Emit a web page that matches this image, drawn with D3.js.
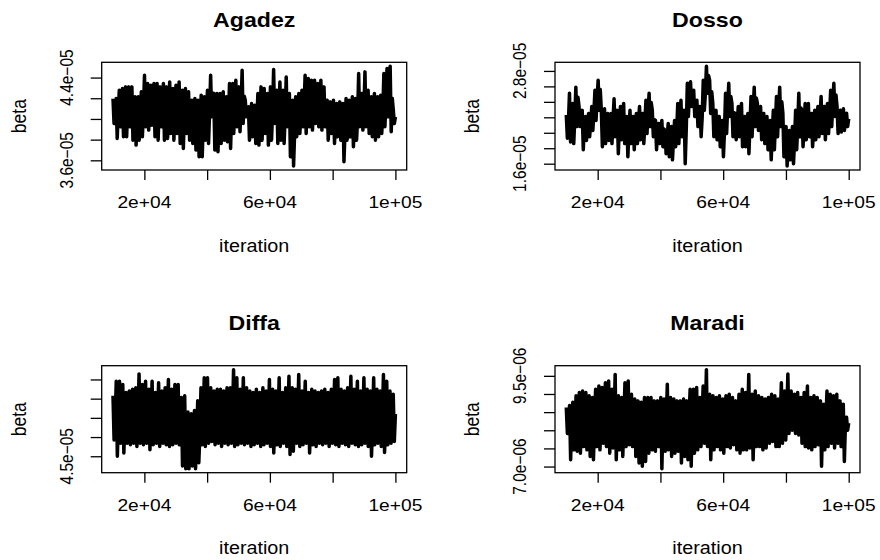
<!DOCTYPE html>
<meta charset="utf-8">
<style>
body { margin: 0; background: #fff; }
text { font-family: "Liberation Sans", Arial, Helvetica, sans-serif; fill: #000; }
.trace { fill: none; stroke: #000; stroke-width: 3.5px; stroke-linejoin: round; }
.box { fill: none; stroke: #000; stroke-width: 1.3px; }
.axis line { stroke: #000; stroke-width: 1.3px; }
</style>
<svg width="880" height="560"></svg>
<script src="https://cdn.jsdelivr.net/npm/d3@7"></script>
<script>

// iterations kept after burn-in
var iterStart = 10000, iterEnd = 100000;

// beta traces, in units of 1e-6
var agadez = [41.97,39.56,40.9, 41.97,38.12,40.6, 42.78,39.24,41.3, 42.94,38.28,41.0,
  43.10,38.28,41.2, 43.10,39.24,41.5, 43.10,37.95,41.0, 42.14,37.47,40.3,
  42.14,37.95,40.5, 42.62,38.28,40.8, 44.23,39.24,41.6, 43.42,38.92,41.5,
  43.26,39.40,41.8, 43.42,38.28,41.4, 43.42,37.95,41.2, 43.10,39.24,41.6,
  43.42,37.95,41.3, 43.10,38.12,41.1, 43.58,38.60,41.5, 42.94,37.95,41.0,
  43.26,38.60,41.3, 43.58,37.63,41.0, 42.78,37.15,40.6, 42.94,38.60,41.0,
  42.62,37.95,40.7, 41.81,37.63,40.1, 41.97,36.99,39.8, 41.81,36.35,39.5,
  42.30,36.35,39.8, 42.14,37.95,40.4, 42.78,37.63,40.6, 44.23,40.21,42.5,
  42.46,36.99,40.0, 42.46,36.83,40.2, 42.46,37.63,40.4, 42.62,37.95,40.6,
  42.14,37.79,40.3, 43.42,37.15,40.7, 43.42,38.60,41.3, 43.74,39.24,41.7,
  43.10,38.76,41.2, 44.71,39.56,42.2, 41.81,40.21,41.0, 41.17,37.95,39.8,
  41.49,38.28,40.1, 41.33,37.63,39.7, 42.46,37.47,40.3, 43.10,37.95,40.8,
  42.94,38.60,41.0, 42.46,37.47,40.2, 43.10,37.95,40.7, 44.77,39.56,42.0,
  42.78,37.63,40.5, 43.58,37.95,41.0, 42.78,37.63,40.4, 44.06,39.24,41.8,
  42.46,36.35,39.6, 41.81,35.45,38.6, 42.14,38.28,40.3, 42.46,38.60,40.7,
  42.78,39.24,41.2, 44.23,38.60,41.5, 43.90,39.24,41.6, 43.74,38.92,41.4,
  43.74,39.56,41.8, 43.42,39.24,41.5, 43.74,38.92,41.3, 43.10,39.24,41.2,
  41.81,37.95,40.1, 41.65,38.60,40.3, 41.81,37.63,39.9, 41.49,38.28,40.0,
  41.65,37.95,39.9, 41.49,35.86,38.7, 41.97,37.95,40.1, 41.81,38.28,40.2,
  42.14,37.31,40.0, 41.97,37.95,40.1, 44.39,39.24,41.9, 42.46,38.92,40.8,
  44.55,39.24,42.0, 42.78,38.60,40.9, 42.14,38.28,40.4, 42.46,37.95,40.3,
  42.14,38.28,40.4, 42.30,38.60,40.6, 44.39,39.24,41.8, 44.87,40.21,42.6,
  45.09,38.76,42.0, 40.85,39.56,40.2];

var dosso = [22.3,19.3,21.4, 25.1,18.8,22.6, 23.8,18.6,21.9, 25.9,20.8,24.6,
  23.4,20.8,22.5, 22.9,17.8,21.2, 22.1,19.0,21.0, 22.5,19.5,21.3,
  23.4,20.3,22.7, 25.5,21.6,24.4, 26.8,22.9,25.6, 22.9,18.2,21.6,
  23.1,18.6,21.4, 22.5,19.0,21.2, 22.5,18.6,21.7, 24.4,19.5,22.3,
  22.9,17.3,21.0, 23.4,19.1,22.1, 23.8,18.6,21.8, 22.1,16.9,20.4,
  22.9,18.6,21.3, 22.1,17.8,20.9, 22.5,18.6,21.6, 23.4,19.1,22.0,
  22.5,18.6,21.2, 24.2,19.9,22.8, 25.1,20.8,23.9, 22.9,19.5,21.7,
  21.6,17.8,20.6, 21.2,18.6,20.3, 21.6,18.2,20.5, 20.3,17.3,19.4,
  21.2,16.9,19.8, 20.8,16.5,19.3, 21.6,18.2,20.4, 23.8,18.6,21.9,
  24.2,19.5,22.6, 22.9,16.0,20.5, 26.4,22.1,25.3, 26.6,23.4,25.4,
  25.5,22.1,24.0, 24.2,20.8,23.1, 23.4,19.5,22.0, 26.8,22.9,25.1,
  28.6,25.1,27.4, 26.8,22.5,25.3, 23.8,19.5,22.4, 22.9,19.1,21.6,
  22.1,18.2,20.9, 21.6,16.9,20.2, 25.1,19.9,23.2, 26.4,22.1,24.7,
  23.8,19.5,22.6, 22.5,19.1,21.3, 23.4,19.5,22.2, 23.8,18.2,21.5,
  22.1,18.2,20.9, 22.5,17.3,21.0, 24.7,19.5,23.0, 25.9,20.8,24.5,
  23.8,20.3,22.4, 23.4,19.1,21.8, 22.5,18.6,21.2, 22.1,17.8,20.6,
  21.6,16.5,20.0, 22.9,17.8,21.4, 24.7,19.5,22.8, 25.9,20.8,24.0,
  22.5,16.9,20.2, 20.8,15.7,19.0, 20.3,16.5,18.7, 20.8,16.0,19.1,
  22.9,17.8,21.1, 25.1,19.5,23.2, 22.9,18.2,21.4, 23.8,19.1,22.2,
  23.8,19.5,22.0, 22.5,18.2,21.0, 22.9,19.1,21.6, 23.4,19.5,22.1,
  24.7,19.9,23.0, 23.4,19.1,21.8, 23.8,19.9,22.3, 25.5,20.8,23.9,
  26.4,22.1,24.9, 23.4,19.9,22.0, 22.9,20.1,21.6, 23.1,20.3,22.2,
  22.5,20.8,21.8];

var diffa = [48.15,45.85,46.9, 48.91,45.00,47.0, 48.91,45.68,46.8, 48.74,45.17,47.1,
  48.32,45.68,46.9, 48.40,45.60,47.0, 48.49,45.68,46.8, 48.57,45.51,47.1,
  49.29,45.68,46.9, 48.74,45.60,47.0, 48.91,45.68,46.8, 48.49,45.34,47.1,
  48.91,45.60,46.9, 48.32,45.68,47.0, 48.83,45.51,46.8, 48.40,45.68,47.1,
  48.57,45.60,46.9, 49.00,45.51,47.0, 48.49,45.60,46.8, 48.74,45.68,47.1,
  48.74,45.60,46.9, 48.06,44.49,46.3, 48.15,44.35,46.0, 47.30,44.35,45.8,
  47.21,44.49,45.9, 47.38,44.35,46.0, 47.89,44.66,46.2, 48.57,45.60,46.8,
  49.09,45.51,47.0, 49.09,45.68,46.9, 48.57,45.77,47.1, 48.40,45.60,46.8,
  48.49,45.68,47.0, 48.49,45.51,46.9, 48.40,45.68,47.1, 48.57,45.60,46.8,
  48.57,45.68,47.0, 49.51,45.51,46.9, 49.09,45.60,47.1, 48.49,45.68,46.8,
  49.09,45.60,47.0, 48.57,45.68,46.9, 48.40,45.51,47.1, 48.32,45.60,46.8,
  48.49,45.68,47.0, 48.32,45.51,46.9, 48.57,45.60,47.1, 48.40,45.68,46.8,
  49.00,45.51,47.0, 48.49,45.17,46.9, 48.40,45.60,47.1, 49.09,45.51,46.8,
  48.32,45.68,47.0, 48.57,45.51,46.9, 49.17,45.09,47.1, 48.57,45.26,46.8,
  48.49,45.68,47.0, 49.26,45.51,46.9, 48.40,45.60,47.1, 48.91,45.68,46.8,
  48.32,45.17,47.0, 48.49,45.60,46.9, 48.40,45.51,47.1, 48.32,45.68,46.8,
  48.40,45.60,47.0, 48.49,45.68,46.9, 48.32,45.51,47.1, 48.49,45.68,46.8,
  49.00,45.60,47.0, 49.09,45.51,46.9, 48.49,45.68,47.1, 48.40,45.60,46.8,
  48.57,45.51,47.0, 49.17,45.68,46.9, 48.49,45.60,47.1, 48.91,45.51,46.8,
  48.40,45.60,47.0, 49.09,45.68,46.9, 48.49,45.51,47.1, 48.40,45.00,46.8,
  49.09,45.60,47.0, 48.49,45.68,46.9, 48.40,45.51,47.1, 49.26,45.20,46.8,
  48.91,45.60,47.0, 48.40,45.68,46.9, 48.23,45.77,47.2];

var maradi = [8.63,7.91,8.30, 8.68,7.19,8.35, 8.77,7.46,8.20, 8.95,7.42,8.40,
  9.04,7.37,8.25, 9.08,7.55,8.45, 9.04,7.46,8.30, 8.95,7.28,8.40,
  8.90,7.19,8.25, 9.13,7.55,8.50, 9.22,7.46,8.35, 9.18,7.64,8.45,
  9.31,7.55,8.40, 9.36,7.37,8.50, 9.13,7.51,8.30, 9.54,7.19,8.45,
  8.95,7.46,8.35, 8.90,7.28,8.25, 9.31,7.55,8.50, 9.36,7.60,8.40,
  8.99,7.55,8.30, 8.86,7.28,8.20, 8.81,7.10,8.15, 8.77,7.01,8.25,
  8.90,7.14,8.30, 8.90,7.37,8.35, 8.90,7.46,8.20, 8.81,7.42,8.30,
  8.81,7.55,8.25, 8.90,6.94,8.35, 8.86,7.42,8.20, 9.27,7.46,8.40,
  8.90,7.28,8.25, 8.86,7.37,8.30, 8.81,7.42,8.20, 8.81,7.10,8.30,
  8.86,7.28,8.25, 8.81,7.19,8.35, 9.13,7.01,8.40, 9.13,7.37,8.30,
  9.18,7.46,8.45, 8.90,7.55,8.35, 9.22,7.64,8.40, 9.67,7.55,8.50,
  8.99,7.19,8.30, 8.95,7.46,8.35, 8.90,7.55,8.25, 8.95,7.46,8.40,
  8.86,7.37,8.30, 8.95,7.55,8.35, 8.99,7.51,8.45, 8.90,7.60,8.30,
  8.81,7.46,8.25, 8.99,7.37,8.35, 9.13,7.46,8.45, 9.04,7.46,8.35,
  9.54,7.51,8.40, 8.99,7.19,8.30, 9.08,7.55,8.40, 8.95,7.55,8.35,
  8.90,7.46,8.30, 8.86,7.51,8.40, 8.90,7.64,8.35, 8.99,7.69,8.45,
  8.95,7.55,8.40, 8.86,7.55,8.35, 9.31,7.64,8.50, 9.08,7.73,8.45,
  9.55,7.91,8.60, 9.08,8.00,8.55, 8.99,7.91,8.50, 9.04,7.87,8.45,
  8.90,7.64,8.40, 9.04,7.55,8.35, 9.22,7.51,8.45, 8.90,7.46,8.30,
  8.95,7.55,8.35, 8.90,7.60,8.40, 8.81,7.01,8.30, 8.72,7.46,8.25,
  9.08,7.55,8.40, 8.99,7.64,8.35, 8.95,7.51,8.45, 8.99,7.64,8.40,
  8.81,7.55,8.30, 8.72,7.14,8.20, 8.36,8.00,8.20];

// axis ticks
var xTicks = [20000, 40000, 60000, 80000, 100000];
var xTickLabels = ["2e+04", "", "6e+04", "", "1e+05"];
var agadezTicks = [36, 38, 40, 42, 44];
var agadezLabels = ["3.6e\u221205", "", "", "", "4.4e\u221205"];
var dossoTicks = [16, 18, 20, 22, 24, 26, 28];
var dossoLabels = ["1.6e\u221205", "", "", "", "", "", "2.8e\u221205"];
var diffaTicks = [45, 46, 47, 48, 49];
var diffaLabels = ["4.5e\u221205", "", "", "", ""];
var maradiTicks = [7.0, 7.5, 8.0, 8.5, 9.0, 9.5];
var maradiLabels = ["7.0e\u221206", "", "", "", "", "9.5e\u221206"];

var panels = [
  {title: "Agadez", values: agadez, ticks: agadezTicks, labels: agadezLabels, x0: 101.7, x1: 406.7, y0: 62.3, y1: 170},
  {title: "Dosso",  values: dosso,  ticks: dossoTicks,  labels: dossoLabels,  x0: 555,   x1: 860,   y0: 62.3, y1: 170},
  {title: "Diffa",  values: diffa,  ticks: diffaTicks,  labels: diffaLabels,  x0: 101.7, x1: 406.7, y0: 365.7, y1: 472.7},
  {title: "Maradi", values: maradi, ticks: maradiTicks, labels: maradiLabels, x0: 555,   x1: 860,   y0: 365.7, y1: 472.7}
];

var svg = d3.select("svg");
var sx = 1.13; // the picture is a bit wider than tall, text included

// R style range: data extent plus 4% each side
function padded(ext) {
  var p = (ext[1] - ext[0]) * 0.04;
  return [ext[0] - p, ext[1] + p];
}

panels.forEach(function(p) {
  var n = p.values.length;
  var pts = p.values.map(function(v, i) {
    return {iter: iterStart + i * (iterEnd - iterStart) / (n - 1), beta: v};
  });

  var x = d3.scaleLinear().domain(padded([iterStart, iterEnd])).range([p.x0, p.x1]);
  var y = d3.scaleLinear().domain(padded(d3.extent(pts, function(d) { return d.beta; }))).range([p.y1, p.y0]);

  var g = svg.append("g");

  g.append("path")
      .datum(pts)
      .attr("class", "trace")
      .attr("d", d3.line().x(function(d) { return x(d.iter); }).y(function(d) { return y(d.beta); }));

  g.append("rect")
      .attr("class", "box")
      .attr("x", p.x0).attr("y", p.y0)
      .attr("width", p.x1 - p.x0).attr("height", p.y1 - p.y0);

  // ticks only, the box stands in for the axis line
  g.append("g")
      .attr("class", "axis")
      .attr("transform", "translate(0," + p.y1 + ")")
      .call(d3.axisBottom(x).tickValues(xTicks).tickSize(10).tickFormat(""))
      .call(function(a) { a.select(".domain").remove(); });

  g.append("g")
      .attr("class", "axis")
      .attr("transform", "translate(" + p.x0 + ",0)")
      .call(d3.axisLeft(y).tickValues(p.ticks).tickSize(11).tickFormat(""))
      .call(function(a) { a.select(".domain").remove(); });

  g.selectAll(".xlab")
    .data(xTicks)
    .enter().append("text")
      .attr("transform", function(d) { return "translate(" + x(d) + "," + (p.y1 + 38.3) + ") scale(" + sx + ",1)"; })
      .attr("text-anchor", "middle")
      .style("font-size", "17px")
      .text(function(d, i) { return xTickLabels[i]; });

  g.selectAll(".ylab")
    .data(p.ticks)
    .enter().append("text")
      .attr("transform", function(d) { return "translate(" + (p.x0 - 29) + "," + y(d) + ") scale(" + sx + ",1) rotate(-90)"; })
      .attr("text-anchor", "middle")
      .style("font-size", "15.5px")
      .text(function(d, i) { return p.labels[i]; });

  var cx = (p.x0 + p.x1) / 2, cy = (p.y0 + p.y1) / 2;

  g.append("text")
      .attr("transform", "translate(" + cx + "," + (p.y0 - 35.3) + ") scale(" + sx + ",1)")
      .attr("text-anchor", "middle")
      .style("font-size", "20.5px")
      .style("font-weight", "bold")
      .text(p.title);

  g.append("text")
      .attr("transform", "translate(" + cx + "," + (p.y1 + 81.7) + ") scale(" + sx + ",1)")
      .attr("text-anchor", "middle")
      .style("font-size", "17.5px")
      .text("iteration");

  g.append("text")
      .attr("transform", "translate(" + (p.x0 - 75.7) + "," + cy + ") scale(" + sx + ",1) rotate(-90)")
      .attr("text-anchor", "middle")
      .style("font-size", "17.5px")
      .text("beta");
});

</script>
